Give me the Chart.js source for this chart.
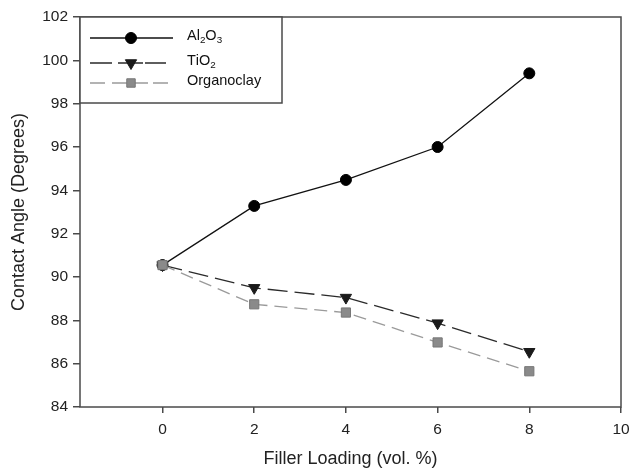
<!DOCTYPE html>
<html>
<head>
<meta charset="utf-8">
<script src="https://cdn.jsdelivr.net/npm/chart.js@4/dist/chart.umd.min.js"></script>
<style>
  html, body { margin: 0; padding: 0; background: #fff; }
  #wrap { width: 630px; height: 470px; position: relative; }
</style>
</head>
<body>
<div id="wrap"><canvas id="c" width="630" height="470"></canvas></div>
<script>
// ---- data ----
const fillerLoading = [0, 2, 4, 6, 8];
const al2o3 = [90.55, 93.28, 94.48, 96.0, 99.4];
const tio2 = [90.55, 89.5, 89.05, 87.87, 86.55];
const organoclay = [90.55, 88.74, 88.36, 86.98, 85.65];
const seriesLabels = ['Al2O3', 'TiO2', 'Organoclay'];
const xTickValues = [0, 2, 4, 6, 8, 10];
const yTickValues = [84, 86, 88, 90, 92, 94, 96, 98, 100, 102];
const xTitle = 'Filler Loading (vol. %)';
const yTitle = 'Contact Angle (Degrees)';

const FONT = '"Liberation Sans", Arial, Helvetica, sans-serif';
const AXIS = '#4a4a4a';

function pts(vals) { return fillerLoading.map((x, i) => ({ x: x, y: vals[i] })); }

const styles = [
  { line: '#111', dash: [], fill: '#000', border: '#000', style: 'circle', r: 5.5, rot: 0, order: 2,
    legendSegs: [[10, 93]], legendRow: 21 },
  { line: '#2a2a2a', dash: [20, 7], fill: '#1a1a1a', border: '#1a1a1a', style: 'triangle', r: 6.5, rot: 180, order: 1,
    legendSegs: [[10, 32], [38, 63], [65, 86]], legendRow: 46 },
  { line: '#9a9a9a', dash: [13, 7], fill: '#8a8a8a', border: '#777', style: 'rect', r: 6.5, rot: 0, order: 0,
    legendSegs: [[10, 25], [32, 68], [73, 88]], legendRow: 66 }
];
const seriesValues = [al2o3, tio2, organoclay];

const datasets = seriesValues.map((vals, i) => ({
  label: seriesLabels[i],
  data: pts(vals),
  order: styles[i].order,
  borderColor: styles[i].line,
  borderWidth: 1.3,
  borderDash: styles[i].dash,
  backgroundColor: styles[i].fill,
  pointBackgroundColor: styles[i].fill,
  pointBorderColor: styles[i].border,
  pointBorderWidth: 1,
  pointStyle: styles[i].style,
  pointRadius: styles[i].r,
  pointRotation: styles[i].rot,
  tension: 0,
  fill: false
}));

function drawMarker(ctx, st, x, y, rScale) {
  const r = st.r * (rScale || 1);
  ctx.save();
  ctx.setLineDash([]);
  ctx.fillStyle = st.fill;
  ctx.strokeStyle = st.border;
  ctx.lineWidth = 1;
  ctx.beginPath();
  if (st.style === 'circle') {
    ctx.arc(x, y, r, 0, Math.PI * 2);
  } else if (st.style === 'triangle') {
    ctx.moveTo(x, y + r);
    ctx.lineTo(x - r * Math.sin(Math.PI / 3), y - r * 0.5);
    ctx.lineTo(x + r * Math.sin(Math.PI / 3), y - r * 0.5);
    ctx.closePath();
  } else {
    const s = Math.SQRT1_2 * r;
    ctx.rect(x - s, y - s, 2 * s, 2 * s);
  }
  ctx.fill();
  ctx.stroke();
  ctx.restore();
}

function drawChemText(ctx, text, x, y, size) {
  let cx = x;
  for (const ch of text) {
    if (/[0-9]/.test(ch)) {
      ctx.font = (size * 0.68) + 'px ' + FONT;
      ctx.fillText(ch, cx, y + size * 0.3);
    } else {
      ctx.font = size + 'px ' + FONT;
      ctx.fillText(ch, cx, y);
    }
    cx += ctx.measureText(ch).width;
  }
}

const framePlugin = {
  id: 'frame',
  afterDatasetsDraw(chart) {
    const { ctx, chartArea: a } = chart;
    ctx.save();
    ctx.strokeStyle = AXIS;
    ctx.lineWidth = 1.5;
    ctx.setLineDash([]);
    ctx.strokeRect(a.left, a.top, a.right - a.left, a.bottom - a.top);

    // legend box
    const lx = a.left, ly = a.top, lw = 202, lh = 86;
    ctx.fillStyle = '#fff';
    ctx.fillRect(lx, ly, lw, lh);
    ctx.strokeRect(lx, ly, lw, lh);
    seriesLabels.forEach((lab, i) => {
      const st = styles[i];
      const y = ly + st.legendRow;
      ctx.save();
      ctx.strokeStyle = st.line;
      ctx.lineWidth = 1.3;
      ctx.setLineDash([]);
      ctx.beginPath();
      st.legendSegs.forEach(([s, e]) => { ctx.moveTo(lx + s, y); ctx.lineTo(lx + e, y); });
      ctx.stroke();
      ctx.restore();
      drawMarker(ctx, st, lx + 51, y, i === 2 ? 0.92 : 1);
      ctx.fillStyle = '#111';
      ctx.textBaseline = 'middle';
      ctx.textAlign = 'left';
      drawChemText(ctx, lab, lx + 107, y - 2, 14.5);
    });
    ctx.restore();
  }
};

new Chart(document.getElementById('c'), {
  type: 'line',
  data: { datasets: datasets },
  plugins: [framePlugin],
  options: {
    responsive: false,
    animation: false,
    devicePixelRatio: 1,
    layout: { padding: { top: 17, right: 9, left: 0, bottom: 0 } },
    plugins: { legend: { display: false }, tooltip: { enabled: false } },
    scales: {
      x: {
        type: 'linear',
        min: -1.8,
        max: 10,
        afterBuildTicks: (s) => { s.ticks = xTickValues.map(v => ({ value: v })); },
        afterFit: (s) => { s.height = 63; s.paddingRight = 0; s.paddingLeft = 0; },
        border: { display: false },
        grid: { drawOnChartArea: false, drawTicks: true, tickLength: 6, color: AXIS, lineWidth: 1.5 },
        ticks: { color: '#222', font: { family: FONT, size: 15.5 }, padding: 7, maxRotation: 0,
                 callback: (v) => String(v) },
        title: { display: true, text: xTitle, color: '#222', font: { family: FONT, size: 18 },
                 padding: { top: 0, bottom: 0 } }
      },
      y: {
        type: 'linear',
        min: 84,
        max: 102,
        afterBuildTicks: (s) => { s.ticks = yTickValues.map(v => ({ value: v })); },
        afterFit: (s) => { s.width = 80; s.paddingTop = 0; s.paddingBottom = 0; },
        border: { display: false },
        grid: { drawOnChartArea: false, drawTicks: true, tickLength: 7, color: AXIS, lineWidth: 1.5 },
        ticks: { color: '#222', font: { family: FONT, size: 15.5 }, padding: 5,
                 callback: (v) => String(v) },
        title: { display: true, text: yTitle, color: '#222', font: { family: FONT, size: 18 },
                 padding: { top: 8, bottom: 0 } }
      }
    }
  }
});
</script>
</body>
</html>
